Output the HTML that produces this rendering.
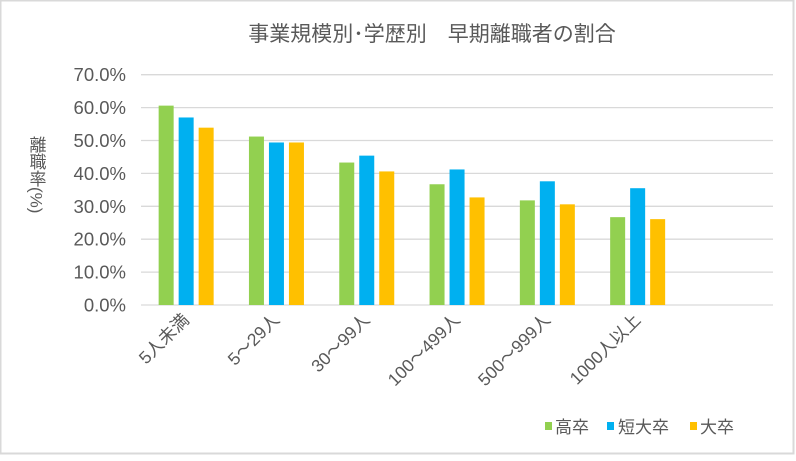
<!DOCTYPE html>
<html><head><meta charset="utf-8"><style>
html,body{margin:0;padding:0;background:#fff;}
svg text{font-family:"Liberation Sans","Noto Sans CJK JP",sans-serif;fill:#595959;}
</style></head><body>
<svg width="796" height="456" viewBox="0 0 796 456">
<rect x="0.5" y="0.5" width="793" height="453" fill="#fff" stroke="#d9d9d9" stroke-width="2"/>
<text x="432" y="41" font-size="21" text-anchor="middle">事業規模別･学歴別　早期離職者の割合</text>
<text x="36" y="136" font-size="17" style="writing-mode:vertical-rl;">離職率(%)</text>
<g id="grid"></g>
<g id="bars"></g>
<g id="xlabels"></g>
<g>
<rect x="545" y="422" width="7" height="8" fill="#92d050"/>
<text x="555" y="433" font-size="17">高卒</text>
<rect x="607" y="422" width="7" height="8" fill="#00b0f0"/>
<text x="618" y="433" font-size="17">短大卒</text>
<rect x="690" y="422" width="7" height="8" fill="#ffc000"/>
<text x="700" y="433" font-size="17">大卒</text>
</g>
</svg>
<script>
const categories=["5人未満","5～29人","30～99人","100～499人","500～999人","1000人以上"];
const koukou=[60.6,51.2,43.3,36.7,31.8,26.7];
const tandai=[57.0,49.4,45.4,41.2,37.6,35.5];
const daigaku=[53.9,49.4,40.6,32.7,30.6,26.1];
const yTicks=[0,10,20,30,40,50,60,70];
const yTickLabels=["0.0%","10.0%","20.0%","30.0%","40.0%","50.0%","60.0%","70.0%"];
const NS="http://www.w3.org/2000/svg";
const x0=141,x1=773,band=90.3,y0=305,pxPer=3.29;
const y=v=>y0-v*pxPer;
const xc=i=>x0+band*(i+0.5);
function mk(t,a,p){const e=document.createElementNS(NS,t);for(const k in a)e.setAttribute(k,a[k]);p.appendChild(e);return e;}
const grid=document.getElementById('grid');
yTicks.forEach((t,i)=>{
 const l=mk('line',{x1:x0,x2:x1,y1:y(t),y2:y(t),stroke:'#d9d9d9','stroke-width':1.3},grid);
 
 
 const tx=mk('text',{x:126,y:y(t)+6.5,'font-size':18.5,'text-anchor':'end'},grid);
 tx.textContent=yTickLabels[i];
 
 
});
const bars=document.getElementById('bars');
const series=[[koukou,'#92d050','koukou'],[tandai,'#00b0f0','tandai'],[daigaku,'#ffc000','daigaku']];
const bw=15,gap=5;
categories.forEach((c,i)=>{
 series.forEach((s,j)=>{
  const bx=xc(i)-(3*bw+2*gap)/2+j*(bw+gap);
  const r=mk('rect',{x:bx,y:y(s[0][i]),width:bw,height:y0-y(s[0][i]),fill:s[1]},bars);
  
  
 });
 const lx=xc(i)+4,ly=321;
 const t=mk('text',{x:lx,y:ly,'font-size':17.5,'text-anchor':'end',transform:`rotate(-45 ${lx} ${ly})`},document.getElementById('xlabels'));
 t.textContent=c;
 
 
});
</script>
</body></html>
